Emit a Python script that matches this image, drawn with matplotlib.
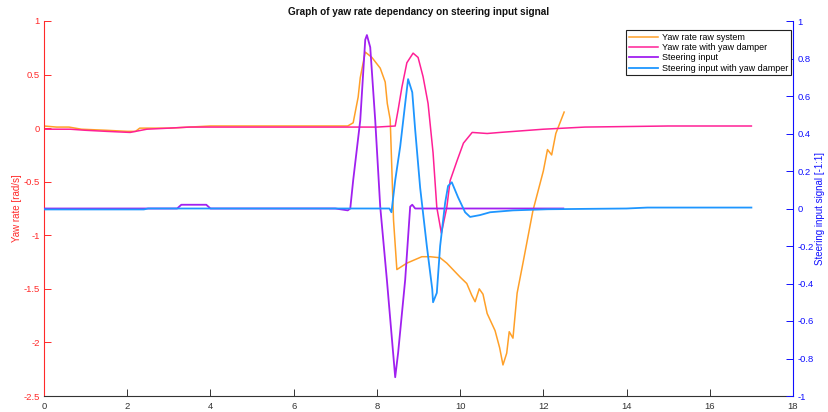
import matplotlib
matplotlib.use("Agg")
import matplotlib.pyplot as plt
from matplotlib.ticker import FixedLocator, FixedFormatter

plt.rcParams['font.family'] = ['Liberation Sans', 'DejaVu Sans']

# ---- data ----
t_raw = [0, 0.3, 0.6, 0.9, 1.5, 2.0, 2.2, 2.3, 2.5, 3.0, 3.5, 4.0, 5.0, 6.0, 7.0, 7.3,
         7.43, 7.55, 7.6, 7.72, 7.88, 8.08, 8.2, 8.25, 8.32, 8.4, 8.48, 8.72, 9.08, 9.28,
         9.52, 9.68, 10.0, 10.16, 10.28, 10.36, 10.46, 10.55, 10.65, 10.84, 10.95, 11.03,
         11.12, 11.18, 11.27, 11.37, 11.51, 11.75, 12.0, 12.1, 12.2, 12.3, 12.4, 12.5]
yaw_raw = [0.02, 0.01, 0.01, -0.01, -0.02, -0.03, -0.03, 0.0, 0.0, 0.0, 0.01, 0.02, 0.02,
           0.02, 0.02, 0.02, 0.05, 0.29, 0.47, 0.71, 0.66, 0.56, 0.43, 0.23, 0.08, -0.86,
           -1.32, -1.26, -1.2, -1.2, -1.21, -1.26, -1.39, -1.45, -1.56, -1.62, -1.5, -1.55,
           -1.73, -1.89, -2.05, -2.21, -2.1, -1.9, -1.96, -1.54, -1.26, -0.77, -0.4, -0.2,
           -0.25, -0.05, 0.05, 0.15]

t_damp = [0, 0.63, 1.0, 1.5, 2.07, 2.47, 3.0, 3.5, 4.0, 5.0, 6.0, 7.0, 8.0, 8.44, 8.51,
          8.6, 8.72, 8.87, 8.99, 9.11, 9.23, 9.35, 9.44, 9.55, 9.68, 9.76, 9.93, 10.08,
          10.29, 10.65, 10.96, 12.0, 13.0, 14.0, 15.0, 16.0, 17.0]
yaw_damp = [-0.01, -0.01, -0.02, -0.03, -0.04, -0.01, 0.0, 0.01, 0.01, 0.01, 0.01, 0.01,
            0.01, 0.02, 0.17, 0.38, 0.61, 0.70, 0.66, 0.48, 0.23, -0.23, -0.74, -0.98,
            -0.74, -0.49, -0.30, -0.14, -0.04, -0.05, -0.04, -0.01, 0.01, 0.015, 0.02,
            0.02, 0.02]

t_steer = [0, 1.0, 2.0, 3.2, 3.3, 3.9, 4.0, 5.0, 6.0, 7.0, 7.3, 7.36, 7.43, 7.6, 7.72,
           7.76, 7.84, 7.96, 8.08, 8.24, 8.44, 8.51, 8.68, 8.8, 8.85, 8.92, 10.0, 11.0,
           12.0, 12.48]
steer = [0.0, 0.0, 0.0, 0.0, 0.02, 0.02, 0.0, 0.0, 0.0, 0.0, -0.01, 0.0, 0.15, 0.47,
         0.90, 0.925, 0.86, 0.47, 0.01, -0.38, -0.90, -0.77, -0.38, 0.01, 0.02, 0.0,
         0.0, 0.0, 0.0, 0.0]

t_sdamp = [0, 1.0, 2.4, 2.5, 4.0, 6.0, 8.0, 8.3, 8.35, 8.44, 8.56, 8.68, 8.75, 8.85,
           8.92, 9.04, 9.2, 9.33, 9.35, 9.44, 9.52, 9.64, 9.71, 9.8, 9.95, 10.12, 10.24,
           10.48, 10.72, 11.27, 12.1, 13.0, 14.0, 14.5, 15.0, 16.0, 17.0]
steer_damp = [-0.005, -0.005, -0.005, 0.0, 0.0, 0.0, 0.0, 0.0, -0.02, 0.15, 0.33, 0.56,
              0.69, 0.62, 0.42, 0.11, -0.2, -0.43, -0.50, -0.45, -0.2, 0.03, 0.12, 0.14,
              0.06, -0.02, -0.045, -0.035, -0.02, -0.01, -0.004, -0.002, 0.0, 0.005,
              0.005, 0.005, 0.005]

labels = ["Yaw rate raw system", "Yaw rate with yaw damper", "Steering input",
          "Steering input with yaw damper"]
title = "Graph of yaw rate dependancy on steering input signal"
x_ticks = [0, 2, 4, 6, 8, 10, 12, 14, 16, 18]
left_ticks = [1, 0.5, 0, -0.5, -1, -1.5, -2, -2.5]
left_labels = ["1", "0.5", "0", "-0.5", "-1", "-1.5", "-2", "-2.5"]
right_ticks = [1, 0.8, 0.6, 0.4, 0.2, 0, -0.2, -0.4, -0.6, -0.8, -1]
right_labels = ["1", "0.8", "0.6", "0.4", "0.2", "0", "-0.2", "-0.4", "-0.6", "-0.8", "-1"]

# ---- styles ----
c_raw = '#FFA028'
c_damp = '#FF2096'
c_steer = '#A020F0'
c_sdamp = '#1E96FF'
c_left = '#FF2A2A'
c_right = '#1010FF'
c_gray = '#333333'

fig = plt.figure(figsize=(8.29, 4.12), dpi=100)
ax1 = fig.add_axes([44 / 829, 16 / 412, 749 / 829, 375 / 412])
ax2 = ax1.twinx()

l1, = ax1.plot(t_raw, yaw_raw, color=c_raw, lw=1.1)
l2, = ax1.plot(t_damp, yaw_damp, color=c_damp, lw=1.1)
l3, = ax2.plot(t_steer, steer, color=c_steer, lw=1.3)
l4, = ax2.plot(t_sdamp, steer_damp, color=c_sdamp, lw=1.3)

ax1.set_xlim(0, 18)
ax1.set_ylim(-2.5, 1)
ax2.set_ylim(-1, 1)

ax1.xaxis.set_major_locator(FixedLocator(x_ticks))
ax1.yaxis.set_major_locator(FixedLocator(left_ticks))
ax1.yaxis.set_major_formatter(FixedFormatter(left_labels))
ax2.yaxis.set_major_locator(FixedLocator(right_ticks))
ax2.yaxis.set_major_formatter(FixedFormatter(right_labels))

for ax in (ax1, ax2):
    ax.spines['top'].set_visible(False)

ax1.spines['left'].set_color(c_left)
ax1.spines['left'].set_linewidth(0.8)
ax1.spines['bottom'].set_color(c_gray)
ax1.spines['bottom'].set_linewidth(0.8)
ax1.spines['right'].set_visible(False)
ax2.spines['left'].set_visible(False)
ax2.spines['bottom'].set_visible(False)
ax2.spines['right'].set_color(c_right)
ax2.spines['right'].set_linewidth(0.8)

ax1.tick_params(axis='x', direction='in', length=5, width=0.7, color=c_gray,
                labelcolor=c_gray, labelsize=6.8, pad=4.5)
ax1.tick_params(axis='y', direction='in', length=5, width=0.7, color=c_left,
                labelcolor=c_left, labelsize=6.8, pad=3)
ax2.tick_params(axis='y', direction='in', length=5, width=0.7, color=c_right,
                labelcolor=c_right, labelsize=6.8, pad=3)

ax1.set_ylabel("Yaw rate [rad/s]", color=c_left, fontsize=7)
ax1.yaxis.set_label_coords(-0.030, 0.5)
ax2.set_ylabel("Steering input signal [-1:1]", color=c_right, fontsize=7)
ax2.yaxis.set_label_coords(1.029, 0.5)

fig.text(418.5 / 829, 1 - 12 / 412, title, ha='center', va='center',
         fontsize=7.2, fontweight='bold', color='#111111')

leg = ax2.legend([l1, l2, l3, l4], labels, loc='upper right',
                 bbox_to_anchor=(0.9973, 0.976), borderaxespad=0, fancybox=False,
                 framealpha=1, edgecolor='#222222', fontsize=6.5, handlelength=3.2,
                 handletextpad=0.5, labelspacing=0.15, borderpad=0.3)
leg.get_frame().set_linewidth(0.8)

fig.savefig("out.png", dpi=100)
